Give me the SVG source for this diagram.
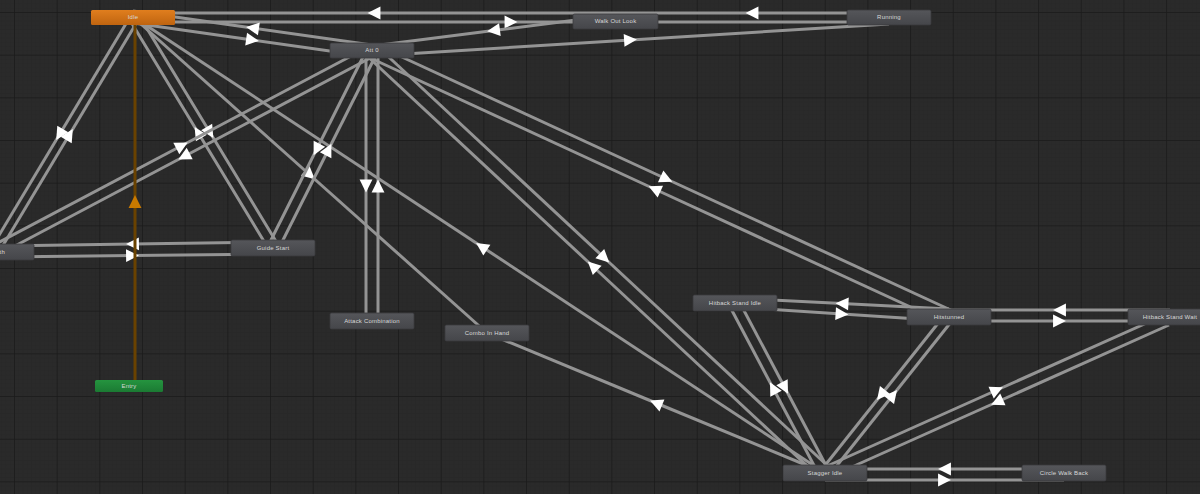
<svg xmlns="http://www.w3.org/2000/svg" width="1200" height="494" viewBox="0 0 1200 494">
<defs>
<pattern id="minor" x="14" y="12" width="4.267" height="4.267" patternUnits="userSpaceOnUse">
<path d="M0,0 H4.267 M0,0 V4.267" stroke="#252525" stroke-width="0.8" fill="none"/>
</pattern>
<pattern id="major" x="14" y="12" width="42.67" height="42.67" patternUnits="userSpaceOnUse">
<path d="M0,0 H42.67 M0,0 V42.67" stroke="#1a1a1a" stroke-width="1.5" fill="none"/>
</pattern>
<linearGradient id="gNode" x1="0" y1="0" x2="0" y2="1">
<stop offset="0" stop-color="#55565a"/>
<stop offset="1" stop-color="#45464a"/>
</linearGradient>
<linearGradient id="gOrange" x1="0" y1="0" x2="0" y2="1">
<stop offset="0" stop-color="#e07e1e"/>
<stop offset="1" stop-color="#bf6410"/>
</linearGradient>
<linearGradient id="gGreen" x1="0" y1="0" x2="0" y2="1">
<stop offset="0" stop-color="#25943f"/>
<stop offset="1" stop-color="#1b7a33"/>
</linearGradient>
<marker id="arr" viewBox="0 0 14 14" markerWidth="15" markerHeight="15" refX="7" refY="7" orient="auto" markerUnits="userSpaceOnUse">
<path d="M1,1 L13,7 L1,13 z" fill="#ffffff"/>
</marker>
<marker id="arrO" viewBox="0 0 14 14" markerWidth="15" markerHeight="15" refX="7" refY="7" orient="auto" markerUnits="userSpaceOnUse">
<path d="M1,1 L13,7 L1,13 z" fill="#c97a00"/>
</marker>
</defs>
<style>
.t{fill:none;stroke:#949494;stroke-width:3;marker-mid:url(#arr)}
.te{fill:none;stroke:#6a4200;stroke-width:3;marker-mid:url(#arrO)}
.n rect{fill:url(#gNode);stroke:#3a3a3d;stroke-width:0.8}
.n text,.o text,.e text{font-family:"Liberation Sans",Arial,sans-serif;font-size:6px;fill:#d8d8d8;text-anchor:middle;letter-spacing:0.2px}
.o rect{fill:url(#gOrange)}
.e rect{fill:url(#gGreen)}
</style>
<rect width="1200" height="494" fill="#2a2a2a"/>
<rect width="1200" height="494" fill="url(#minor)"/>
<rect width="1200" height="494" fill="url(#major)"/>

<g id="connectors">
<path class="t" d="M615,13 L374,13 L133,13"/>
<path class="t" d="M889,13 L752,13 L615,13"/>
<path class="t" d="M133,22 L511,22 L889,22"/>
<path class="t" d="M372,56 L630.5,40 L889,24"/>
<path class="t" d="M615,15 L493.5,30.5 L372,46"/>
<path class="t" d="M372,45 L252.5,28 L133,11"/>
<path class="t" d="M133,23 L252.5,40 L372,57"/>
<path class="t" d="M130,17 L59.5,134.5 L-11,252"/>
<path class="t" d="M-1,252 L69.5,134.5 L140,17"/>
<path class="t" d="M268,248 L198,132.5 L128,17"/>
<path class="t" d="M140,17 L210,132.5 L280,248"/>
<path class="t" d="M133,17 L310,175 L487,333"/>
<path class="t" d="M825,473 L481.5,246.5 L138,20"/>
<path class="t" d="M-8,246 L182,145.5 L372,45"/>
<path class="t" d="M374,56 L184,156.5 L-6,257"/>
<path class="t" d="M366,51 L316.5,149.5 L267,248"/>
<path class="t" d="M279,248 L328.5,149.5 L378,51"/>
<path class="t" d="M366,51 L366,186 L366,321"/>
<path class="t" d="M378,321 L378,186 L378,51"/>
<path class="t" d="M819,477 L592.5,266 L366,55"/>
<path class="t" d="M378,47 L604.5,258 L831,469"/>
<path class="t" d="M943,322 L654.5,189 L366,56"/>
<path class="t" d="M378,46 L666.5,179 L955,312"/>
<path class="t" d="M825,473 L656,403 L487,333"/>
<path class="t" d="M273,242 L132.5,244 L-8,246"/>
<path class="t" d="M-8,257 L132.5,255.5 L273,254"/>
<path class="t" d="M949,309 L842,303.5 L735,298"/>
<path class="t" d="M735,307 L842,314 L949,321"/>
<path class="t" d="M1170,310 L1059.5,310 L949,310"/>
<path class="t" d="M949,321 L1059.5,321 L1170,321"/>
<path class="t" d="M818,473 L773,388 L728,303"/>
<path class="t" d="M740,303 L785,388 L830,473"/>
<path class="t" d="M943,317 L881,395 L819,473"/>
<path class="t" d="M831,473 L893,395 L955,317"/>
<path class="t" d="M825,467 L997,390 L1169,313"/>
<path class="t" d="M1169,325 L997,402 L825,479"/>
<path class="t" d="M1064,469 L944.5,469 L825,469"/>
<path class="t" d="M825,480 L944.5,480 L1064,480"/>
<path class="te" d="M135,386 L135,201.5 L135,17"/>
</g>

<g id="node-entry" class="e"><rect x="95" y="380" width="68" height="12" rx="1.5"/><text x="129" y="388.3">Entry</text></g>
<g id="node-idle" class="o"><rect x="91" y="10" width="84" height="15" rx="1.5"/><text x="133" y="19.3">Idle</text></g>
<g id="node-att0" class="n"><rect x="330" y="43" width="84" height="15" rx="1.5"/><text x="372" y="52.3">Att 0</text></g>
<g id="node-walkout" class="n"><rect x="573" y="14" width="85" height="15" rx="1.5"/><text x="615.5" y="23.3">Walk Out Look</text></g>
<g id="node-running" class="n"><rect x="847" y="10" width="84" height="15" rx="1.5"/><text x="889" y="19.3">Running</text></g>
<g id="node-death" class="n"><rect x="-50" y="244" width="84" height="16" rx="1.5"/><text x="5" y="254" style="text-anchor:end">Death</text></g>
<g id="node-guide" class="n"><rect x="231" y="240" width="84" height="16" rx="1.5"/><text x="273" y="250">Guide Start</text></g>
<g id="node-attackcombo" class="n"><rect x="330" y="313" width="84" height="16" rx="1.5"/><text x="372" y="323">Attack Combination</text></g>
<g id="node-combo" class="n"><rect x="445" y="325" width="84" height="16" rx="1.5"/><text x="487" y="335">Combo In Hand</text></g>
<g id="node-hitidle" class="n"><rect x="693" y="295" width="84" height="16" rx="1.5"/><text x="735" y="305">Hitback Stand Idle</text></g>
<g id="node-hitstun" class="n"><rect x="907" y="309" width="84" height="16" rx="1.5"/><text x="949" y="319">Hitstunned</text></g>
<g id="node-hitwait" class="n"><rect x="1128" y="309" width="84" height="16" rx="1.5"/><text x="1170" y="319">Hitback Stand Wait</text></g>
<g id="node-stagger" class="n"><rect x="783" y="465" width="84" height="16" rx="1.5"/><text x="825" y="475">Stagger Idle</text></g>
<g id="node-circle" class="n"><rect x="1022" y="465" width="84" height="16" rx="1.5"/><text x="1064" y="475">Circle Walk Back</text></g>
</svg>
